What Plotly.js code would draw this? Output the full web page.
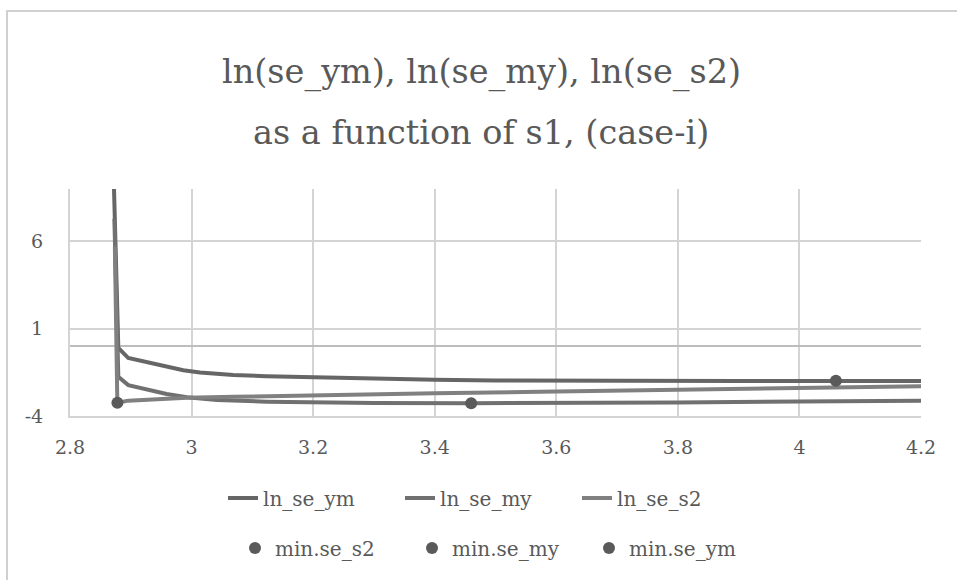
<!DOCTYPE html>
<html>
<head>
<meta charset="utf-8">
<script src="https://cdn.plot.ly/plotly-3.0.1.min.js"></script>
<style>
  html, body { margin: 0; padding: 0; background: #ffffff; }
  #chart { width: 957px; height: 580px; }
  #frame { position: absolute; left: 6px; top: 10px; width: 960px; height: 580px;
           border-left: 2px solid #d0d0d0; border-top: 2px solid #d0d0d0; pointer-events: none; }
</style>
</head>
<body>
<div id="chart"></div>
<div id="frame"></div>
<script>
// ---- data ----
const ymX = [2.8724, 2.8795, 2.8959, 2.9316, 2.959, 2.9864, 3.0138, 3.0686, 3.1234, 3.2112, 3.3, 3.4, 3.5, 3.6, 3.7, 3.8, 3.9, 4.0, 4.1, 4.2];
const ymY = [9.0, -0.1, -0.68, -0.96, -1.19, -1.38, -1.51, -1.65, -1.72, -1.80, -1.87, -1.92, -1.96, -1.98, -1.99, -2.0, -2.0, -2.0, -2.0, -2.0];

const myX = [2.873, 2.8795, 2.8959, 2.9316, 2.959, 2.9923, 3.0417, 3.1234, 3.2112, 3.3, 3.46, 3.6, 3.8, 4.0, 4.2];
const myY = [7.3, -1.76, -2.23, -2.52, -2.74, -2.93, -3.09, -3.18, -3.22, -3.25, -3.27, -3.26, -3.22, -3.17, -3.12];

const s2X = [2.8738, 2.8779, 2.8959, 2.9316, 2.9923, 3.0686, 3.2112, 3.4, 3.6, 3.8, 4.0, 4.2];
const s2Y = [5.7, -3.24, -3.12, -3.05, -2.95, -2.90, -2.80, -2.70, -2.60, -2.48, -2.37, -2.29];

const minS2 = {x: [2.878], y: [-3.24]};
const minMy = {x: [3.46], y: [-3.27]};
const minYm = {x: [4.06], y: [-1.98]};

const titleLine1 = "ln(se_ym), ln(se_my), ln(se_s2)";
const titleLine2 = "as a function of s1, (case-i)";
const xTicks = [2.8, 3, 3.2, 3.4, 3.6, 3.8, 4, 4.2];
const yTicks = [-4, 1, 6];

const FONT = "DejaVu Serif";
const TXT = "#595959";

const traces = [
  {x: ymX, y: ymY, name: "ln_se_ym", mode: "lines", line: {color: "#666666", width: 4}, legend: "legend"},
  {x: myX, y: myY, name: "ln_se_my", mode: "lines", line: {color: "#707070", width: 4}, legend: "legend"},
  {x: s2X, y: s2Y, name: "ln_se_s2", mode: "lines", line: {color: "#808080", width: 4}, legend: "legend"},
  {x: minS2.x, y: minS2.y, name: "min.se_s2", mode: "markers", marker: {color: "#5a5a5a", size: 12}, legend: "legend2"},
  {x: minMy.x, y: minMy.y, name: "min.se_my", mode: "markers", marker: {color: "#5a5a5a", size: 12}, legend: "legend2"},
  {x: minYm.x, y: minYm.y, name: "min.se_ym", mode: "markers", marker: {color: "#5a5a5a", size: 12}, legend: "legend2"}
];

const layout = {
  width: 957, height: 580,
  margin: {l: 70, r: 36, t: 189, b: 164},
  paper_bgcolor: "rgba(0,0,0,0)",
  plot_bgcolor: "#ffffff",
  font: {family: FONT, color: TXT, size: 19},
  showlegend: true,
  xaxis: {
    range: [2.8, 4.2], tickvals: xTicks, ticktext: xTicks.map(String),
    showgrid: true, gridcolor: "#d4d4d4", gridwidth: 2,
    zeroline: false, showline: true, linecolor: "#d4d4d4", linewidth: 2,
    ticks: "", ticklabelstandoff: 13,
    tickfont: {family: FONT, size: 19, color: TXT}
  },
  yaxis: {
    range: [-4, 9], tickvals: yTicks, ticktext: yTicks.map(String),
    showgrid: true, gridcolor: "#d4d4d4", gridwidth: 2,
    zeroline: true, zerolinecolor: "#bdbdbd", zerolinewidth: 2,
    showline: true, linecolor: "#d4d4d4", linewidth: 2,
    ticks: "", ticklabelstandoff: 21,
    tickfont: {family: FONT, size: 19, color: TXT}
  },
  legend: {
    orientation: "h", x: (223 - 70) / 851, xanchor: "left", y: -0.361, yanchor: "middle",
    entrywidth: 132, entrywidthmode: "pixels",
    font: {family: FONT, size: 20, color: TXT}, bgcolor: "rgba(0,0,0,0)"
  },
  legend2: {
    orientation: "h", x: (235 - 70) / 851, xanchor: "left", y: -0.581, yanchor: "middle",
    entrywidth: 132, entrywidthmode: "pixels",
    font: {family: FONT, size: 20, color: TXT}, bgcolor: "rgba(0,0,0,0)"
  },
  annotations: [
    {text: titleLine1, xref: "paper", yref: "paper", x: (481 - 70) / 851, y: 1.515, xanchor: "center", yanchor: "middle",
     showarrow: false, font: {family: FONT, size: 33.5, color: TXT}},
    {text: titleLine2, xref: "paper", yref: "paper", x: (481 - 70) / 851, y: 1.247, xanchor: "center", yanchor: "middle",
     showarrow: false, font: {family: FONT, size: 33.5, color: TXT}}
  ]
};

Plotly.newPlot("chart", traces, layout, {displayModeBar: false, staticPlot: true});
</script>
</body>
</html>
